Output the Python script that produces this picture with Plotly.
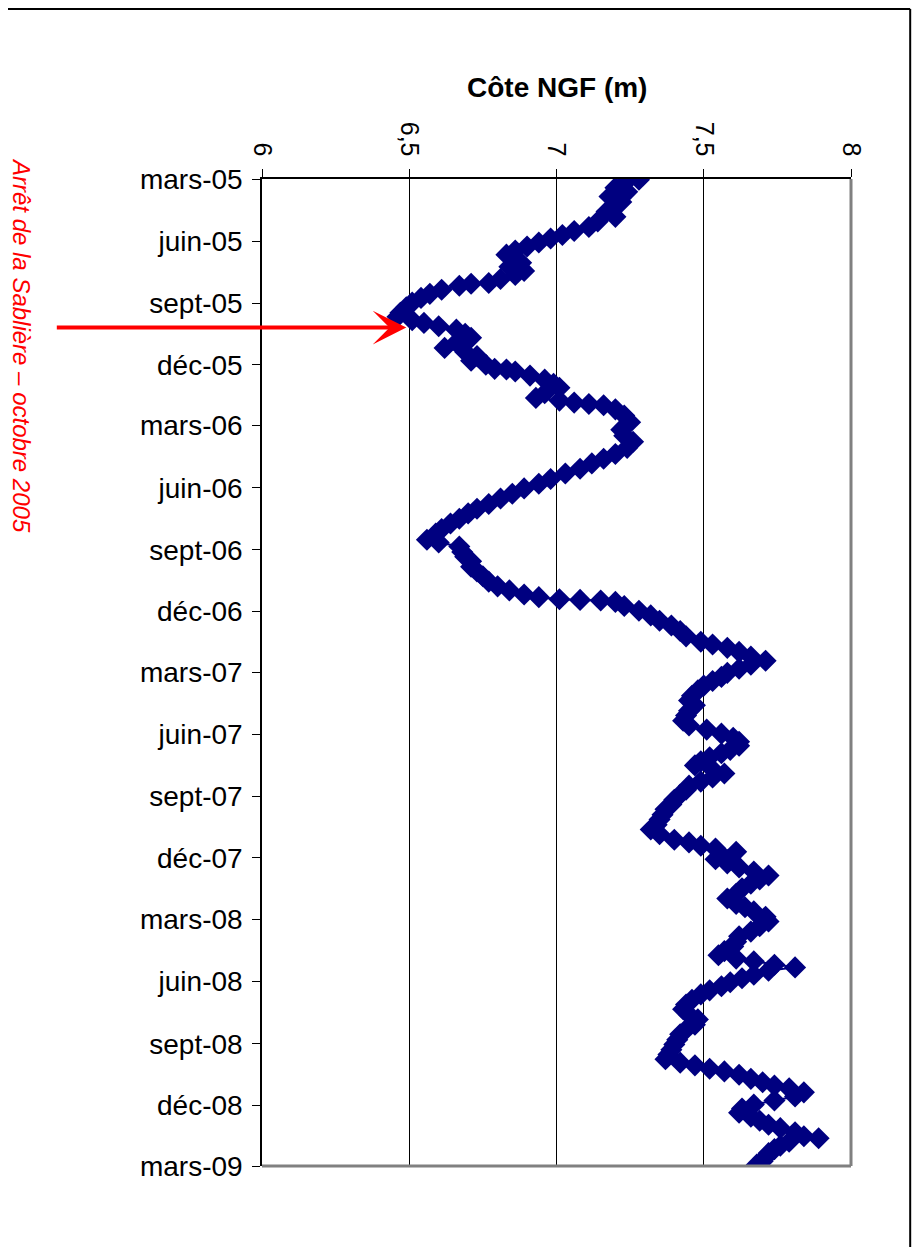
import pandas as pd
import plotly.graph_objects as go

# --- data (days counted from start_date) ---
start_date = "2005-03-01"
day_offsets = [
    1, 7, 13, 19, 26, 34, 41, 48, 56, 63, 71, 77, 83, 88, 94, 100, 106, 112, 118, 124,
    130, 136, 142, 148, 154, 155, 158, 164, 170, 176, 183, 190, 198, 204, 209, 213, 218, 223, 229, 235,
    242, 250, 256, 262, 269, 275, 281, 282, 285, 291, 297, 303, 309, 317, 324, 328, 331, 333, 335, 341,
    350, 360, 371, 380, 389, 398, 407, 414, 421, 429, 436, 444, 451, 458, 466, 473, 481, 488, 495, 503,
    510, 518, 525, 534, 538, 544, 552, 559, 566, 574, 581, 588, 596, 603, 609, 615, 619, 622, 623, 624,
    626, 632, 639, 646, 654, 661, 669, 677, 685, 689, 694, 700, 707, 713, 719, 725, 731, 737, 743, 750,
    757, 765, 772, 779, 787, 794, 802, 809, 815, 821, 827, 833, 839, 845, 850, 856, 862, 868, 874, 880,
    886, 892, 898, 904, 911, 919, 926, 933, 941, 948, 956, 963, 970, 978, 982, 987, 991, 996, 1002, 1007,
    1013, 1019, 1025, 1031, 1037, 1043, 1050, 1058, 1065, 1073, 1078, 1084, 1092, 1099, 1106, 1114, 1121, 1129, 1136, 1143,
    1149, 1154, 1158, 1163, 1167, 1172, 1178, 1183, 1189, 1195, 1201, 1207, 1215, 1222, 1229, 1237, 1244, 1252, 1259, 1266,
    1274, 1281, 1289, 1296, 1303, 1308, 1312, 1317, 1321, 1326, 1332, 1337, 1342, 1346, 1352, 1358, 1364, 1370, 1376, 1382,
    1388, 1394, 1400, 1405, 1411, 1417, 1420, 1425, 1431, 1436, 1442, 1448, 1454, 1459,
]
levels = [
    7.28, 7.23, 7.20, 7.24, 7.18, 7.22, 7.20, 7.17, 7.20, 7.14, 7.11, 7.06, 7.02, 6.98, 6.94, 6.90, 6.86, 6.83, 6.85, 6.88,
    6.84, 6.89, 6.86, 6.81, 6.77, 6.71, 6.67, 6.61, 6.57, 6.54, 6.51, 6.49, 6.47, 6.46, 6.51, 6.55, 6.60, 6.66, 6.69, 6.71,
    6.66, 6.62, 6.69, 6.73, 6.71, 6.76, 6.79, 6.83, 6.86, 6.91, 6.96, 6.99, 7.01, 6.96, 6.93, 7.01, 7.06, 7.11, 7.16, 7.20,
    7.23, 7.25, 7.22, 7.23, 7.26, 7.24, 7.20, 7.16, 7.12, 7.08, 7.03, 6.98, 6.94, 6.89, 6.85, 6.81, 6.77, 6.73, 6.70, 6.67,
    6.64, 6.61, 6.59, 6.56, 6.60, 6.67, 6.68, 6.69, 6.71, 6.71, 6.73, 6.75, 6.77, 6.80, 6.84, 6.89, 6.94, 7.01, 7.08, 7.15,
    7.20, 7.23, 7.28, 7.32, 7.35, 7.39, 7.42, 7.44, 7.49, 7.53, 7.58, 7.62, 7.66, 7.71, 7.66, 7.62, 7.58, 7.56, 7.53, 7.50,
    7.48, 7.46, 7.45, 7.47, 7.45, 7.44, 7.43, 7.45, 7.51, 7.56, 7.60, 7.62, 7.62, 7.59, 7.56, 7.52, 7.49, 7.47, 7.53, 7.57,
    7.53, 7.49, 7.45, 7.44, 7.42, 7.40, 7.39, 7.37, 7.36, 7.35, 7.34, 7.32, 7.35, 7.40, 7.45, 7.49, 7.54, 7.61, 7.56, 7.54,
    7.58, 7.62, 7.67, 7.72, 7.69, 7.66, 7.63, 7.61, 7.58, 7.61, 7.64, 7.67, 7.71, 7.72, 7.69, 7.66, 7.62, 7.61, 7.60, 7.57,
    7.55, 7.61, 7.67, 7.74, 7.81, 7.72, 7.67, 7.63, 7.59, 7.56, 7.52, 7.49, 7.46, 7.44, 7.43, 7.45, 7.48, 7.47, 7.44, 7.42,
    7.41, 7.40, 7.39, 7.38, 7.37, 7.42, 7.47, 7.52, 7.57, 7.62, 7.66, 7.70, 7.74, 7.79, 7.84, 7.81, 7.74, 7.67, 7.63, 7.62,
    7.66, 7.69, 7.72, 7.76, 7.81, 7.84, 7.89, 7.79, 7.76, 7.74, 7.72, 7.71, 7.70, 7.68,
]

date_ticks = [
    "2005-03-01", "2005-06-01", "2005-09-01", "2005-12-01",
    "2006-03-01", "2006-06-01", "2006-09-01", "2006-12-01",
    "2007-03-01", "2007-06-01", "2007-09-01", "2007-12-01",
    "2008-03-01", "2008-06-01", "2008-09-01", "2008-12-01",
    "2009-03-01",
]
date_labels = [
    "mars-05", "juin-05", "sept-05", "déc-05",
    "mars-06", "juin-06", "sept-06", "déc-06",
    "mars-07", "juin-07", "sept-07", "déc-07",
    "mars-08", "juin-08", "sept-08", "déc-08",
    "mars-09",
]
level_ticks = [6, 6.5, 7, 7.5, 8]
level_labels = ["6", "6,5", "7", "7,5", "8"]

axis_title = "Côte NGF (m)"
note_text = "Arrêt de la Sablière – octobre 2005"
note_date = "2005-10-07"
note_level = 6.49

dates = pd.to_datetime(start_date) + pd.to_timedelta(day_offsets, unit="D")

FONT = "Liberation Sans, Arial, sans-serif"
NAVY = "#000080"

fig = go.Figure()
fig.add_trace(go.Scatter(
    x=levels, y=dates, mode="lines+markers",
    line=dict(color=NAVY, width=2),
    marker=dict(symbol="diamond", size=17, color=NAVY, line=dict(width=0)),
    showlegend=False, hoverinfo="skip",
))

fig.update_layout(
    width=920, height=1247,
    margin=dict(l=254, r=77, t=171, b=89),
    paper_bgcolor="white", plot_bgcolor="white",
    font=dict(family=FONT, color="black"),
    showlegend=False,
)

fig.update_xaxes(
    side="top", range=[6, 8], tickvals=level_ticks, ticktext=level_labels,
    tickangle=90, tickfont=dict(size=25, family=FONT, color="black"),
    ticks="outside", ticklen=8, tickcolor="black", tickwidth=1,
    showline=True, linecolor="black", linewidth=1.5,
    showgrid=True, gridcolor="black", gridwidth=1,
    zeroline=False, fixedrange=True, ticklabelstandoff=4,
)
fig.update_yaxes(
    type="date", range=["2009-03-01", "2005-03-01"],
    tickvals=date_ticks, ticktext=date_labels,
    tickfont=dict(size=28, family=FONT, color="black"),
    ticks="outside", ticklen=8, tickcolor="black", tickwidth=1,
    showline=True, linecolor="black", linewidth=1.5,
    showgrid=False, zeroline=False, fixedrange=True, ticklabelstandoff=4,
)

# gray right and bottom border of plot area
fig.add_shape(type="line", xref="x domain", yref="y domain", x0=1, x1=1, y0=0, y1=1,
              line=dict(color="#808080", width=3), layer="above")
fig.add_shape(type="line", xref="x domain", yref="y domain", x0=0, x1=1, y0=0, y1=0,
              line=dict(color="#808080", width=3), layer="above")

# outer chart frame (top and right visible)
fig.add_shape(type="line", xref="paper", yref="paper", x0=-0.5, x1=1.1005, y0=1.1722, y1=1.1722,
              line=dict(color="black", width=2))
fig.add_shape(type="line", xref="paper", yref="paper", x0=1.1005, x1=1.1005, y0=1.1722, y1=-0.2,
              line=dict(color="black", width=2))

# axis title
fig.add_annotation(text="<b>" + axis_title + "</b>", xref="paper", yref="paper",
                   x=(557 - 262) / 589, y=1 + (179 - 88) / 987, showarrow=False,
                   font=dict(size=28, family=FONT, color="black"),
                   xanchor="center", yanchor="middle")

# red note
fig.add_annotation(text="<i>" + note_text + "</i>", xref="paper", yref="paper",
                   x=(22 - 262) / 589, y=1 - (345 - 179) / 987, showarrow=False,
                   textangle=90, font=dict(size=24, family=FONT, color="#FF0000"),
                   xanchor="center", yanchor="middle")

# red arrow
fig.add_annotation(text="", x=note_level, y=note_date, xref="x", yref="y",
                   showarrow=True, ax=-351, ay=0, axref="pixel", ayref="pixel",
                   arrowhead=3, arrowsize=1.4, arrowwidth=4, arrowcolor="#FF0000",
                   standoff=0)

fig.write_html("out.html")
